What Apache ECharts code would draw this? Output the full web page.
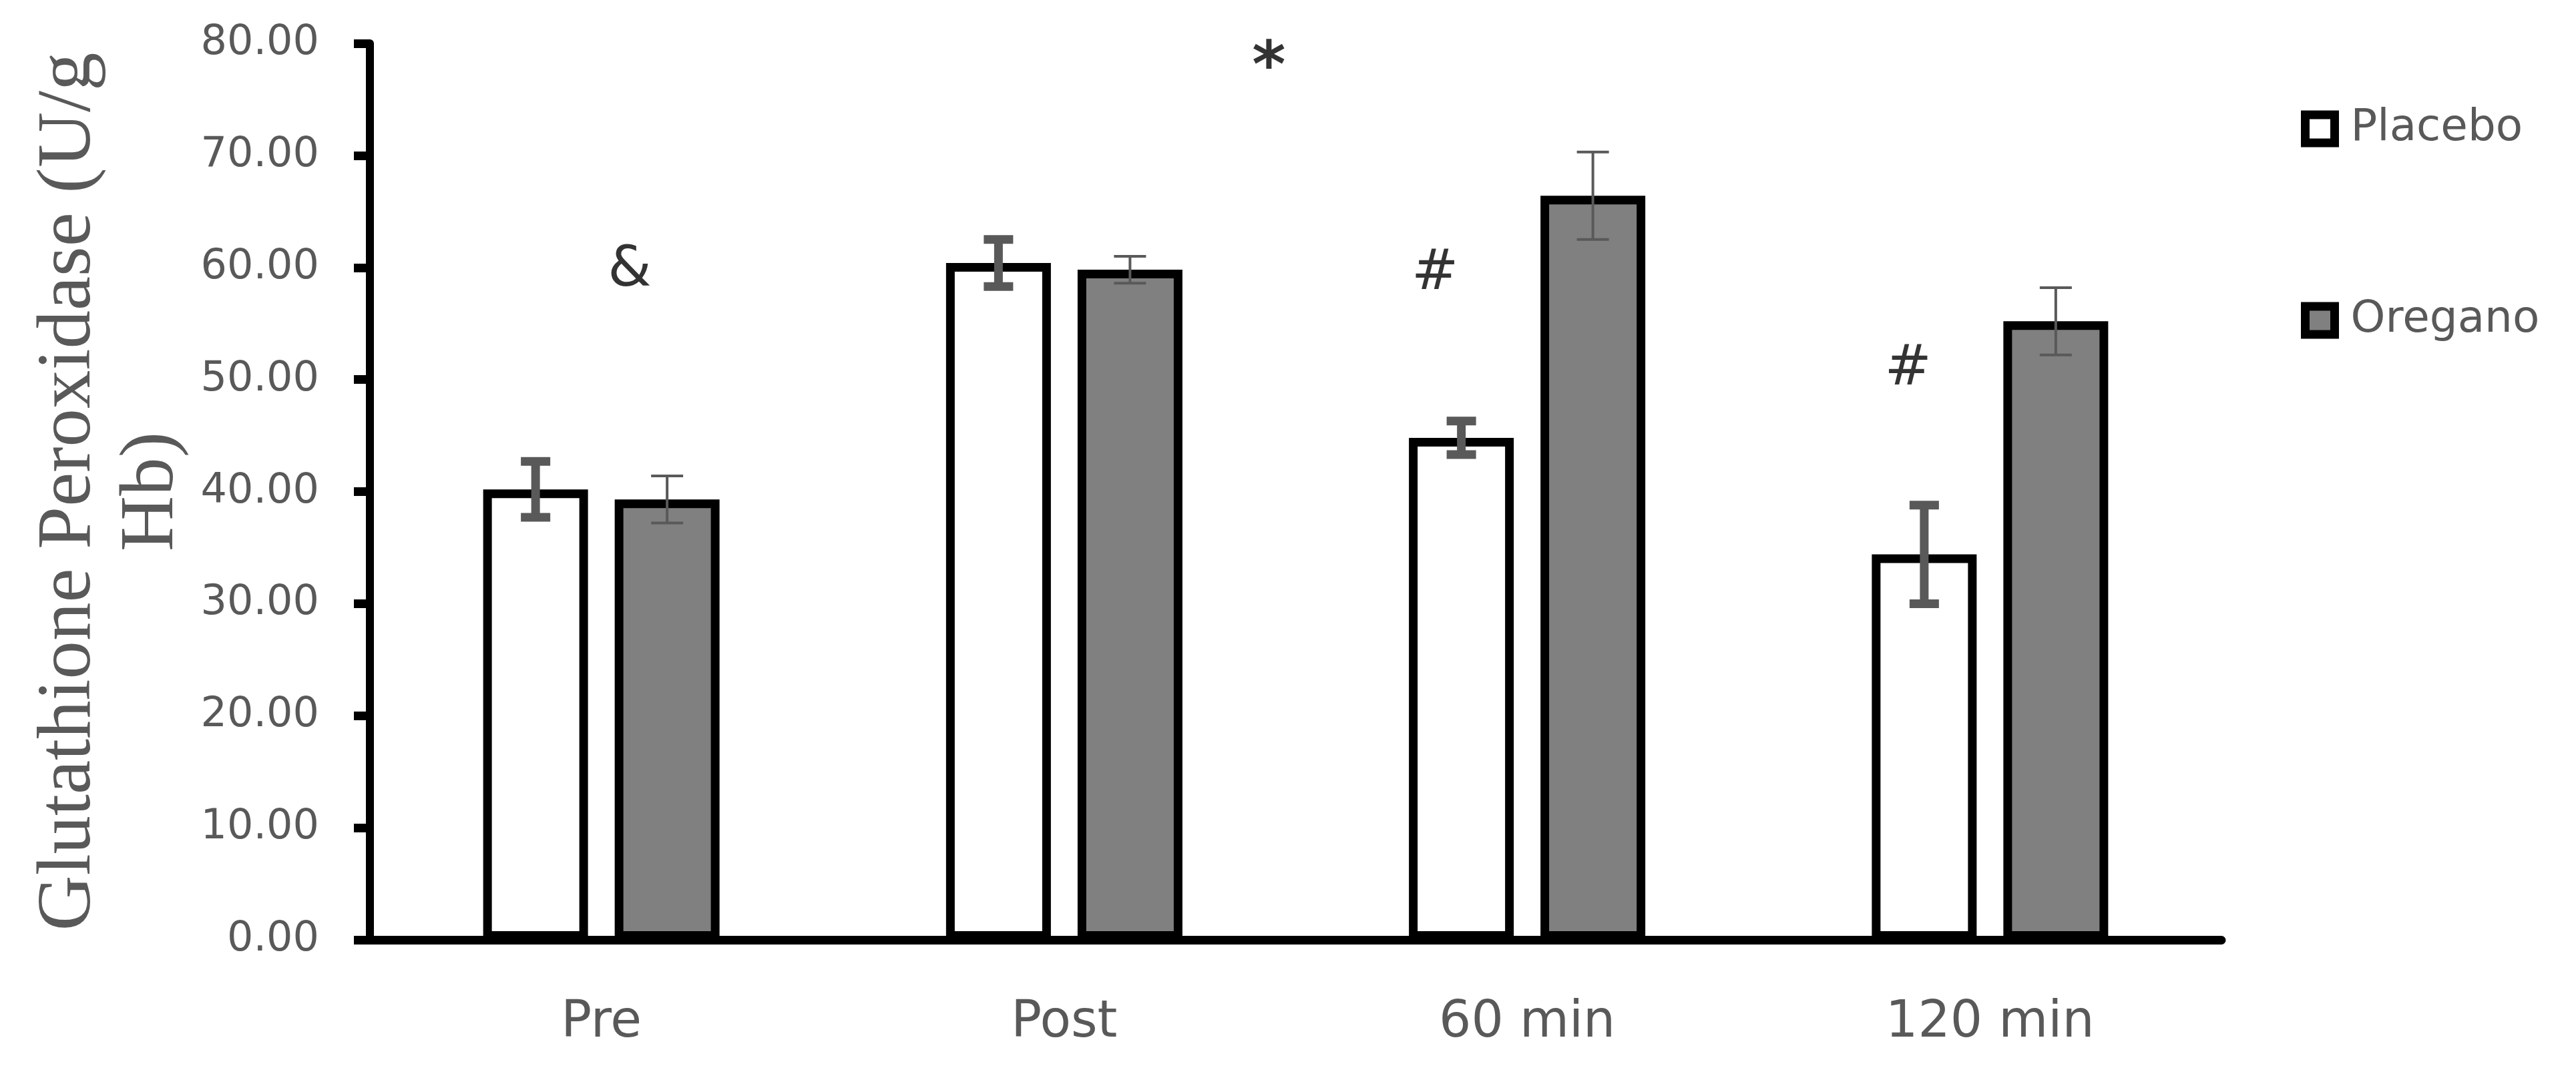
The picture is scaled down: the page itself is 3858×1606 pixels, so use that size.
<!DOCTYPE html>
<html>
<head>
<meta charset="utf-8">
<script src="https://cdn.jsdelivr.net/npm/echarts@6/dist/echarts.min.js"></script>
<style>
html,body{margin:0;padding:0;background:#fff;}
#chart{width:3858px;height:1606px;}
</style>
</head>
<body>
<div id="chart"></div>
<script>
// ---- data ----
const categories = ['Pre', 'Post', '60 min', '120 min'];
const placebo = [40.2, 60.4, 44.8, 34.4];
const placeboErr = [2.5, 2.1, 1.5, 4.4];
const oregano = [39.3, 59.8, 66.4, 55.2];
const oreganoErr = [2.1, 1.2, 3.9, 3.0];
const seriesNames = ['Placebo', 'Oregano'];
const yAxisTitle = 'Glutathione Peroxidase (U/g\nHb)';
// annotation marks: text, x in category-index units, y value
const annotationText = ['&', '*', '#', '#'];
const annotationX = [0.061, 1.442, 1.801, 2.823];
const annotationY = [60.2, 78.9, 59.9, 51.4];

// ---- style ----
const BAR_W = 157;
const BAR_GAP_PX = 40;
const OFF = (BAR_W + BAR_GAP_PX) / 2;
const GRAY_TXT = '#595959';

function errSeries(name, vals, errs, sign, lw, capW) {
  return {
    type: 'custom', name: name + ' SE', z: 10, silent: true,
    data: vals.map((v, i) => [i, v, errs[i]]),
    renderItem: function (params, api) {
      const i = api.value(0), m = api.value(1), e = api.value(2);
      const top = api.coord([i, m + e]);
      const bot = api.coord([i, m - e]);
      const x = top[0] + sign * OFF;
      const st = {stroke: '#595959', lineWidth: lw};
      return {type: 'group', children: [
        {type: 'line', shape: {x1: x, y1: top[1], x2: x, y2: bot[1]}, style: st},
        {type: 'line', shape: {x1: x - capW / 2, y1: top[1], x2: x + capW / 2, y2: top[1]}, style: st},
        {type: 'line', shape: {x1: x - capW / 2, y1: bot[1], x2: x + capW / 2, y2: bot[1]}, style: st}
      ]};
    }
  };
}

const labelStyleFor = t => t === '*'
  ? {fontSize: 96, fontWeight: 'bold', offset: [0, 22]}
  : {fontSize: 84, fontWeight: 'normal', offset: [0, 9]};

const chart = echarts.init(document.getElementById('chart'));
chart.setOption({
  animation: false,
  backgroundColor: '#ffffff',
  grid: {left: 554, right: 531, top: 65, bottom: 198, containLabel: false},
  legend: {
    data: seriesNames,
    orient: 'vertical',
    left: 3441, top: 155,
    itemWidth: 44, itemHeight: 42, itemGap: 221,
    icon: 'rect',
    itemStyle: {borderWidth: 13, borderColor: '#000'},
    textStyle: {fontFamily: 'DejaVu Sans', fontSize: 66, color: GRAY_TXT, padding: [0, 0, 0, 19]}
  },
  xAxis: [{
    type: 'category', data: categories,
    axisLine: {lineStyle: {color: '#000', width: 13}},
    axisTick: {show: false},
    axisLabel: {fontFamily: 'DejaVu Sans', fontSize: 76, color: GRAY_TXT, margin: 87},
    splitLine: {show: false}
  }, {
    type: 'value', min: -0.5, max: 3.5, show: false, splitLine: {show: false}
  }],
  yAxis: {
    type: 'value', min: 0, max: 80, interval: 10,
    name: yAxisTitle,
    nameLocation: 'middle', nameRotate: 90, nameGap: 264,
    nameTextStyle: {fontFamily: 'Liberation Serif', fontSize: 115, color: GRAY_TXT, lineHeight: 124, align: 'center'},
    axisLine: {show: true, onZero: false, lineStyle: {color: '#000', width: 12}},
    axisTick: {show: true, length: 24, lineStyle: {color: '#000', width: 13}},
    axisLabel: {fontFamily: 'DejaVu Sans', fontSize: 62, color: GRAY_TXT, margin: 76,
      formatter: v => v.toFixed(2)},
    splitLine: {show: false}
  },
  series: [
    {name: seriesNames[0], type: 'bar', data: placebo, barWidth: BAR_W, barGap: (BAR_GAP_PX / BAR_W * 100) + '%',
      itemStyle: {color: '#ffffff', borderColor: '#000', borderWidth: 13}},
    {name: seriesNames[1], type: 'bar', data: oregano, barWidth: BAR_W,
      itemStyle: {color: '#808080', borderColor: '#000', borderWidth: 13}},
    errSeries('Placebo', placebo, placeboErr, -1, 13, 44),
    errSeries('Oregano', oregano, oreganoErr, 1, 4, 48),
    {
      type: 'scatter', xAxisIndex: 1, symbolSize: 0, silent: true, z: 12,
      data: annotationText.map((t, i) => ({
        value: [annotationX[i], annotationY[i]], name: t,
        label: labelStyleFor(t)
      })),
      label: {show: true, position: 'inside', formatter: p => p.name,
        fontFamily: 'DejaVu Sans', fontSize: 84, color: '#000'}
    }
  ]
});
</script>
</body>
</html>
